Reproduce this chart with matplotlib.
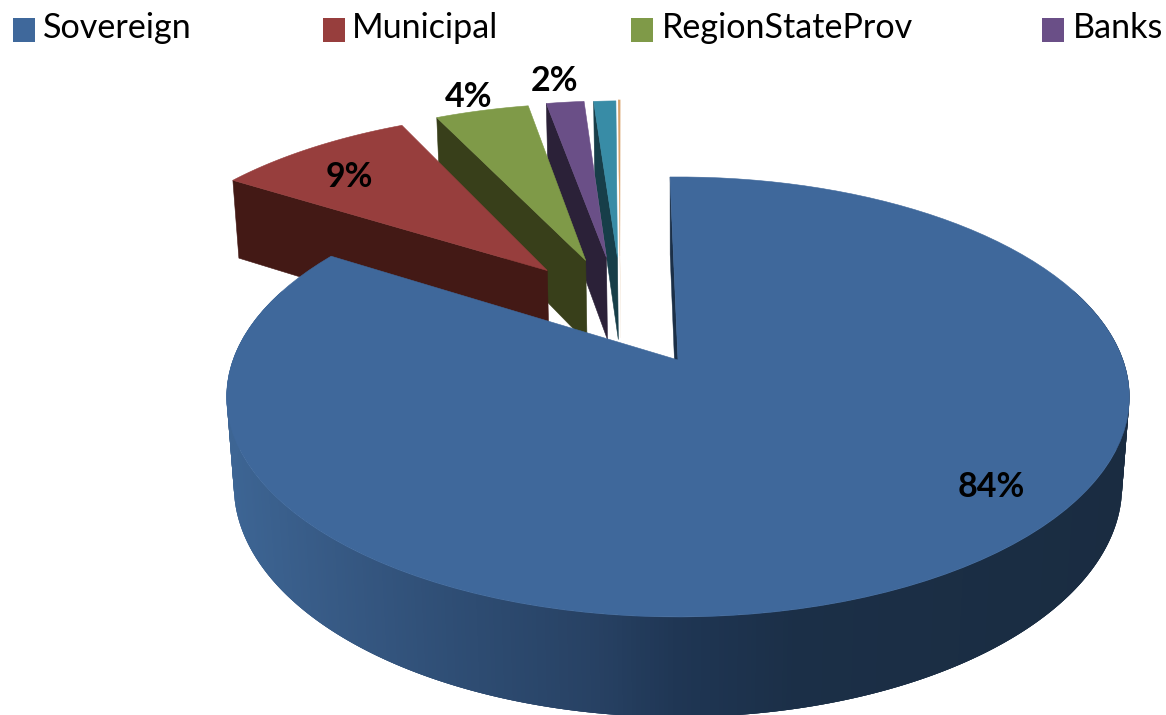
import numpy as np
import matplotlib
matplotlib.use("Agg")
import matplotlib.pyplot as plt
from matplotlib.colors import to_rgb
from matplotlib.patches import Polygon, Rectangle
from matplotlib.collections import PolyCollection

# ---- data ----
categories = ["Sovereign", "Municipal", "RegionStateProv", "Banks", "Other", "Supranational"]
values = [84.2, 8.8, 4.2, 1.7, 1.0, 0.1]
labels = ["84%", "9%", "4%", "2%", None, None]
legend_names = ["Sovereign", "Municipal", "RegionStateProv", "Banks"]

# ---- styles ----
top_colors = ["#3F689B", "#973E3D", "#7F9A48", "#6A4F87", "#388CA6", "#D9A26A"]
cut_colors = ["#1B2F47", "#431915", "#383F1A", "#2B2138", "#173E49", "#E8CDB0"]
explode = [(0, 0), (-0.316, 0.45), (-0.225, 0.505), (-0.175, 0.522), (-0.148, 0.522), (-0.142, 0.53)]
label_pos = [(991, 487), (349, 177), (469, 97), (554, 81)]
legend_sq = [13, 323, 631, 1042]
legend_tx = [43, 352, 662, 1073]

OX, OY = 678.0, 360.0
A, B, D, K, M = 445.0, 213.8, 89.0, 0.168, 0.016
START = -1.2


def project(U, V, z=0.0):
    w = 1 + K * V + M * z
    return OX + A * U / w, OY - (B * V - D * z) / w


fig = plt.figure(figsize=(11.66, 7.15), dpi=100)
ax = fig.add_axes([0, 0, 1, 1])
ax.set_xlim(0, 1166)
ax.set_ylim(715, 0)
ax.axis("off")

vals = np.asarray(values)
edges = START + np.concatenate([[0], np.cumsum(vals)]) * 360.0 / vals.sum()


def arc(i, n=120):
    t = np.radians(np.linspace(edges[i], edges[i + 1], n))
    ex, ey = explode[i]
    return ex + np.sin(t), ey + np.cos(t)


def wedge_top(i):
    U, V = arc(i)
    ex, ey = explode[i]
    xs, ys = project(np.r_[ex, U], np.r_[ey, V])
    return np.column_stack([xs, ys])


def cut_wall(i):
    ex, ey = explode[i]
    t = np.radians(edges[i])
    cu, cv = ex + np.sin(t), ey + np.cos(t)
    return [project(ex, ey), project(cu, cv), project(cu, cv, 1), project(ex, ey, 1)]


# exploded slices, back to front
for i in range(len(vals) - 1, 0, -1):
    z0 = 3 + (len(vals) - i)
    lw = 0.1 if i == len(vals) - 1 else 0.4
    ax.add_patch(Polygon(cut_wall(i), closed=True, fc=cut_colors[i], ec=cut_colors[i], lw=lw, zorder=z0))
    ax.add_patch(Polygon(wedge_top(i), closed=True, fc=top_colors[i], ec=top_colors[i], lw=lw, zorder=z0))

# sovereign: cut wall, shaded outer wall, top face
ax.add_patch(Polygon(cut_wall(0), closed=True, fc=cut_colors[0], ec=cut_colors[0], lw=0.3, zorder=20))

ramp_x = [228, 330, 450, 600, 680, 800, 1130]
ramp_c = np.array([to_rgb(c) for c in ["#3D6594", "#375A85", "#2F4E75", "#274163", "#1F3654", "#1B2F47", "#1A2C41"]])
th = np.radians(np.linspace(70, 290, 441))
xt, yt = project(np.sin(th), np.cos(th))
xb, yb = project(np.sin(th), np.cos(th), 1)
# strips are painted in order and overlap their neighbours so no seams show
quads, cols = [], []
for j in range(len(th) - 3):
    k = j + 3
    quads.append(list(zip(xt[j:k + 1], yt[j:k + 1])) + list(zip(xb[j:k + 1][::-1], yb[j:k + 1][::-1])))
    cols.append([np.interp(xt[j], ramp_x, ramp_c[:, c]) for c in range(3)])
ax.add_collection(PolyCollection(quads, facecolors=cols, edgecolors="none", linewidths=0, zorder=21))
ax.add_patch(Polygon(wedge_top(0), closed=True, fc=top_colors[0], ec=top_colors[0], lw=0.4, zorder=22))

# data labels
for lab, (x, y) in zip(labels, label_pos):
    if lab:
        ax.text(x, y, lab, ha="center", va="center", fontsize=24.5, fontweight="bold",
                family="Lato", color="black", zorder=30)

# legend
for i, name in enumerate(legend_names):
    ax.add_patch(Rectangle((legend_sq[i], 18), 22, 24, fc=top_colors[i], ec="none", zorder=30))
    ax.text(legend_tx[i], 38, name, ha="left", va="baseline", fontsize=24.6, family="Lato",
            color="black", zorder=30)

fig.savefig("out.png", dpi=100)
